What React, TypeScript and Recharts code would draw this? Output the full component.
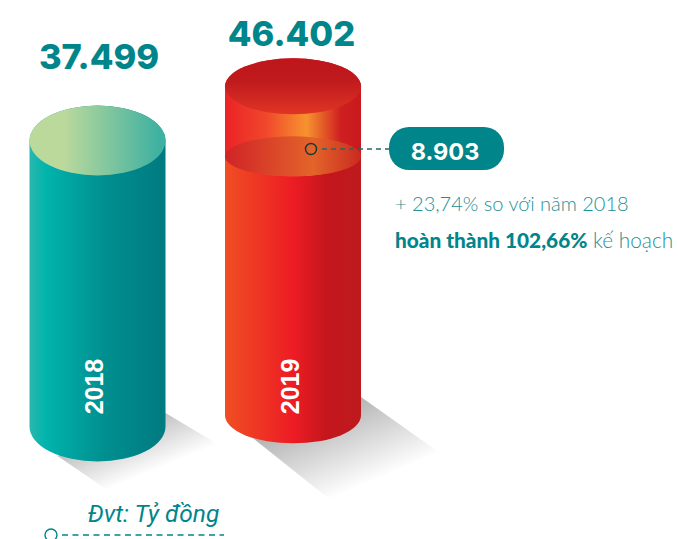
import React from "react";
import { ComposedChart, Bar, XAxis, YAxis } from "recharts";

const years = ["2018", "2019"];
const revenue = [37499, 46402];
const valueLabels = ["37.499", "46.402"];
const increaseLabel = "8.903";
const compareText = "+ 23,74% so với năm 2018";
const planStrong = "hoàn thành 102,66%";
const planRest = " kế hoạch";
const unitText = "Đvt: Tỷ đồng";

const chartData = years.map((year, i) => ({ year, revenue: revenue[i], label: valueLabels[i] }));

const TEAL = "#00858a";
const numberFont = "Inter, sans-serif";

function cylinderPath(x: number, w: number, top: number, bottom: number, ry: number) {
  const rx = w / 2;
  return `M${x},${top} L${x},${bottom} A${rx},${ry} 0 0 0 ${x + w},${bottom} L${x + w},${top} A${rx},${ry} 0 0 0 ${x},${top} Z`;
}

function Cylinder(props: any) {
  const { x, y, width, index, payload } = props;
  const cx = x + width / 2;
  const rx = width / 2;
  if (index === 0) {
    const bottom = y + 286;
    const ry = 35;
    return (
      <g>
        <polygon points={`${x + width},${y + 272.5} ${x + width + 52},${y + 303.5} ${cx + 10},${y + 349.5} ${x + 28},${y + 315.5}`} fill="url(#shadowA)" />
        <path d={cylinderPath(x, width, y, bottom, ry)} fill="url(#tealBody)" />
        <ellipse cx={cx} cy={y} rx={rx} ry={ry} fill="url(#tealTop)" />
        <text x={cx + 1.5} y={y - 72} textAnchor="middle" fontFamily={numberFont} fontWeight={800} fontSize={34.5} fill={TEAL}>{payload.label}</text>
        <text transform={`translate(${cx + 5},${y + 246}) rotate(-90)`} textAnchor="middle" fontFamily="'Liberation Sans', Arial, sans-serif" fontWeight={700} fontSize={25} fill="#fff">{payload.year}</text>
      </g>
    );
  }
  const bottom = y + 329;
  const ry = 28;
  const midY = y + 70;
  return (
    <g>
      <polygon points={`${x + width},${y + 310.6} ${x + width + 79},${y + 366.6} ${cx + 37.5},${y + 413.6} ${x + 24},${y + 348.6}`} fill="url(#shadowB)" />
      <path d={cylinderPath(x, width, y, bottom, ry)} fill="url(#redBody)" />
      <path d={cylinderPath(x, width, y, midY, 20)} fill="url(#redUpper)" />
      <ellipse cx={cx} cy={midY} rx={rx} ry={20} fill="url(#redMid)" />
      <ellipse cx={cx} cy={y} rx={rx} ry={ry} fill="url(#redTop)" />
      <text x={cx - 1.5} y={y - 40} textAnchor="middle" fontFamily={numberFont} fontWeight={800} fontSize={34.5} fill={TEAL}>{payload.label}</text>
      <text transform={`translate(${cx + 6},${y + 300}) rotate(-90)`} textAnchor="middle" fontFamily="'Liberation Sans', Arial, sans-serif" fontWeight={700} fontSize={25} fill="#fff">{payload.year}</text>
      <circle cx={311} cy={149} r={5.5} fill="none" stroke="#123b32" strokeWidth={1.4} />
      <line x1={322} y1={149} x2={389} y2={149} stroke="#1f6a68" strokeWidth={1.3} strokeDasharray="5 4" />
      <rect x={389} y={127} width={115} height={43} rx={20} fill={TEAL} />
      <text x={445} y={160} textAnchor="middle" fontFamily={numberFont} fontWeight={700} fontSize={23.5} fill="#fff">{increaseLabel}</text>
      <text x={395} y={211} fontFamily="Lato, sans-serif" fontWeight={300} fontSize={20} fill="#1f8f92">{compareText}</text>
      <text x={395} y={248} fontFamily="Lato, sans-serif" fontSize={20.8} fill="#1f8f92">
        <tspan fontWeight={900} fill={TEAL}>{planStrong}</tspan>
        <tspan fontWeight={300}>{planRest}</tspan>
      </text>
      <text x={153.5} y={522} textAnchor="middle" fontFamily="Roboto, sans-serif" fontStyle="italic" fontSize={24.5} fill={TEAL}>{unitText}</text>
      <circle cx={51} cy={535} r={6} fill="#fff" stroke={TEAL} strokeWidth={1.4} />
      <line x1={62} y1={535} x2={224} y2={535} stroke={TEAL} strokeWidth={1.3} strokeDasharray="6 4.5" />
    </g>
  );
}

export default function App() {
  return (
    <div style={{ position: "absolute", left: 0, top: 0, width: 678, height: 539, background: "#fff" }}>
      <ComposedChart width={678} height={539} data={chartData} margin={{ top: 0, right: 287.5, bottom: 0, left: -0.5 }}>
        <defs>
          <linearGradient id="tealBody" x1="0" y1="0" x2="1" y2="0">
            <stop offset="0" stopColor="#2ab8ae" />
            <stop offset="0.12" stopColor="#00b4ac" />
            <stop offset="0.55" stopColor="#008f90" />
            <stop offset="1" stopColor="#007a80" />
          </linearGradient>
          <linearGradient id="tealTop" x1="0" y1="0" x2="1" y2="0">
            <stop offset="0.25" stopColor="#bcd99c" />
            <stop offset="0.95" stopColor="#3fb1a1" />
          </linearGradient>
          <linearGradient id="redBody" x1="0" y1="0" x2="1" y2="0">
            <stop offset="0" stopColor="#f04e23" />
            <stop offset="0.5" stopColor="#ed1c24" />
            <stop offset="0.75" stopColor="#c4161c" />
            <stop offset="1" stopColor="#bd1a1e" />
          </linearGradient>
          <linearGradient id="redUpper" x1="0" y1="0" x2="1" y2="0">
            <stop offset="0" stopColor="#ec2227" />
            <stop offset="0.3" stopColor="#f0472b" />
            <stop offset="0.6" stopColor="#f7932f" />
            <stop offset="0.85" stopColor="#cf1f20" />
            <stop offset="1" stopColor="#c8191d" />
          </linearGradient>
          <linearGradient id="redMid" x1="0" y1="0" x2="1" y2="0">
            <stop offset="0" stopColor="#d02327" />
            <stop offset="0.65" stopColor="#e3642a" />
            <stop offset="1" stopColor="#ca2a20" />
          </linearGradient>
          <linearGradient id="redTop" x1="0" y1="0" x2="0" y2="1">
            <stop offset="0" stopColor="#be161b" />
            <stop offset="0.4" stopColor="#c01a1d" />
            <stop offset="1" stopColor="#df3525" />
          </linearGradient>
          <linearGradient id="shadowA" gradientUnits="userSpaceOnUse" x1="143" y1="421" x2="162" y2="467">
            <stop offset="0" stopColor="#c0c0c0" />
            <stop offset="1" stopColor="#ffffff" />
          </linearGradient>
          <linearGradient id="shadowB" gradientUnits="userSpaceOnUse" x1="353" y1="400" x2="385" y2="476">
            <stop offset="0" stopColor="#b4b4b4" />
            <stop offset="1" stopColor="#ffffff" />
          </linearGradient>
        </defs>
        <XAxis dataKey="year" hide />
        <YAxis hide domain={[-28000, 60600]} />
        <Bar dataKey="revenue" barSize={136} shape={Cylinder} isAnimationActive={false} />
      </ComposedChart>
    </div>
  );
}
